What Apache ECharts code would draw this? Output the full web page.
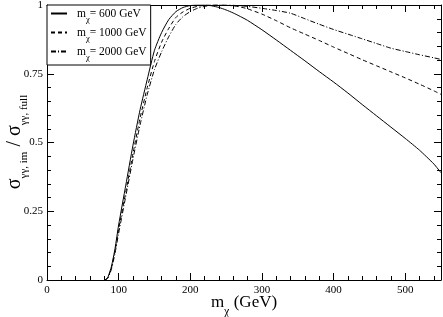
<!DOCTYPE html>
<html>
<head>
<meta charset="utf-8">
<script src="https://cdn.jsdelivr.net/npm/echarts@6/dist/echarts.min.js"></script>
<style>html,body{margin:0;padding:0;background:#fff}#c{width:443px;height:317px}</style>
</head>
<body>
<div id="c"></div>
<script>
var mChi = [81, 85, 90, 95, 100, 110, 120, 130, 140, 150, 160, 170, 180, 190, 200, 210, 220, 230, 240, 250, 260, 270, 280, 300, 320, 340, 360, 380, 400, 420, 440, 460, 480, 500, 520, 540, 550];
var ratio600 = [0, 0.01, 0.05, 0.115, 0.2, 0.345, 0.49, 0.62, 0.73, 0.835, 0.9, 0.947, 0.976, 0.991, 0.998, 1.0, 1.0, 0.997, 0.991, 0.982, 0.971, 0.958, 0.944, 0.91, 0.873, 0.835, 0.797, 0.758, 0.72, 0.68, 0.638, 0.597, 0.556, 0.515, 0.472, 0.422, 0.39];
var ratio1000 = [0, 0.008, 0.045, 0.105, 0.185, 0.32, 0.46, 0.59, 0.70, 0.795, 0.865, 0.915, 0.955, 0.975, 0.988, 0.995, 0.999, 1.0, 1.0, 0.999, 0.997, 0.993, 0.986, 0.967, 0.943, 0.917, 0.894, 0.871, 0.847, 0.824, 0.801, 0.779, 0.757, 0.735, 0.712, 0.688, 0.675];
var ratio2000 = [0, 0.007, 0.04, 0.098, 0.17, 0.305, 0.44, 0.565, 0.675, 0.765, 0.83, 0.885, 0.93, 0.958, 0.976, 0.988, 0.995, 0.999, 1.0, 1.0, 0.999, 0.997, 0.995, 0.988, 0.98, 0.97, 0.95, 0.93, 0.911, 0.894, 0.877, 0.86, 0.843, 0.831, 0.819, 0.808, 0.802];
var seriesNames = ['600', '1000', '2000'];

var FONT = 'Liberation Serif';
function pairs(ys){ return mChi.map(function(x,i){ return [x, ys[i]]; }); }

function ax(extra){
  var o = {
    axisLine: {show: true, onZero: false, lineStyle: {color: '#000', width: 1}},
    axisTick: {show: true, inside: true, length: 7, lineStyle: {color: '#000', width: 1}},
    minorTick: {show: true, splitNumber: 5, length: 4, lineStyle: {color: '#000', width: 1}},
    splitLine: {show: false},
    minorSplitLine: {show: false}
  };
  for (var k in extra) o[k] = extra[k];
  return o;
}

var chart = echarts.init(document.getElementById('c'), null, {renderer: 'canvas'});
var option = {
  backgroundColor: '#fff',
  animation: false,
  grid: {left: 47, right: 2, top: 5, bottom: 37, containLabel: false, outerBoundsMode: 'none'},
  xAxis: [
    ax({type: 'value', min: 0, max: 550, interval: 100, position: 'bottom',
      axisLabel: {color: '#000', fontFamily: FONT, fontSize: 11, margin: 5, showMaxLabel: false}}),
    ax({type: 'value', min: 0, max: 550, interval: 100, position: 'top', axisLabel: {show: false}})
  ],
  yAxis: [
    ax({type: 'value', min: 0, max: 1, interval: 0.25, position: 'left',
      axisLabel: {color: '#000', fontFamily: FONT, fontSize: 11, margin: 4}}),
    ax({type: 'value', min: 0, max: 1, interval: 0.25, position: 'right', axisLabel: {show: false}})
  ],
  legend: {
    orient: 'vertical', left: 47, top: 5, itemWidth: 16, itemHeight: 10, itemGap: 3,
    padding: [3, 4, 3, 3], borderColor: '#000', borderWidth: 1, backgroundColor: '#fff',
    data: seriesNames,
    itemStyle: {opacity: 0},
    formatter: function(n){ return '{m|m}{s|χ}{t|= ' + n + ' GeV}'; },
    textStyle: {color: '#000', fontFamily: FONT, fontSize: 11, padding: [0,0,0,5], rich: {
      m: {fontFamily: FONT, fontSize: 11.5, color: '#000', lineHeight: 13, verticalAlign: 'bottom'},
      s: {fontFamily: FONT, fontSize: 8.5, color: '#000', lineHeight: 8, verticalAlign: 'bottom', padding: [0,0,-4,0]},
      t: {fontFamily: FONT, fontSize: 11.5, color: '#000', lineHeight: 13, verticalAlign: 'bottom'}
    }}
  },
  graphic: [{
    type: 'text', x: 14, y: 142, rotation: Math.PI / 2,
    style: {
      text: '{a|σ}{b|γγ, im}{a| / σ}{b|γγ, full}',
      align: 'center', verticalAlign: 'middle',
      rich: {
        a: {fontFamily: FONT, fontSize: 20, fill: '#000', lineHeight: 22, verticalAlign: 'bottom'},
        b: {fontFamily: FONT, fontSize: 11, fill: '#000', lineHeight: 11, verticalAlign: 'bottom', padding: [0,0,-5,0]}
      }
    }
  }, {
    type: 'text', x: 244, y: 302,
    style: {
      text: '{m|m}{s|χ}{t| (GeV)}',
      align: 'center', verticalAlign: 'middle',
      rich: {
        m: {fontFamily: FONT, fontSize: 17, fill: '#000', lineHeight: 18, verticalAlign: 'bottom'},
        s: {fontFamily: FONT, fontSize: 12, fill: '#000', lineHeight: 12, verticalAlign: 'bottom', padding: [0,0,-7,0]},
        t: {fontFamily: FONT, fontSize: 17, fill: '#000', lineHeight: 18, verticalAlign: 'bottom'}
      }
    }
  }],
  series: [
    {name: seriesNames[0], type: 'line', symbol: 'none', smooth: 0.2, data: pairs(ratio600),
      lineStyle: {color: '#000', width: 1, type: 'solid'}, itemStyle: {color: '#000'}},
    {name: seriesNames[1], type: 'line', symbol: 'none', smooth: 0.2, data: pairs(ratio1000),
      lineStyle: {color: '#000', width: 1, type: [4, 3]}, itemStyle: {color: '#000'}},
    {name: seriesNames[2], type: 'line', symbol: 'none', smooth: 0.2, data: pairs(ratio2000),
      lineStyle: {color: '#000', width: 1, type: [5, 2, 1, 2]}, itemStyle: {color: '#000'}}
  ]
};
chart.setOption(option);
</script>
</body>
</html>
